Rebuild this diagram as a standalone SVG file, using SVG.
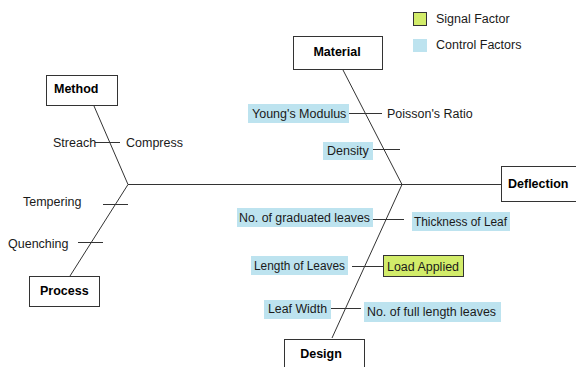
<svg xmlns="http://www.w3.org/2000/svg" width="576" height="367" viewBox="0 0 576 367">
<style>
text{font-family:"Liberation Sans",Arial,sans-serif;font-size:12.5px;fill:#1a1a1a}
.b{font-weight:bold;fill:#000}
.box{fill:#fff;stroke:#333;stroke-width:1}
.ctl{fill:#bde3ef;stroke:none}
.sig{fill:#d2ec6a;stroke:#333;stroke-width:1}
.ln{stroke:#333;stroke-width:1;fill:none}
</style>
<rect width="576" height="367" fill="#fff"/>
<g id="legend">
<rect class="sig" x="413.5" y="12.5" width="13" height="13"/>
<text x="436" y="23">Signal Factor</text>
<rect class="ctl" x="413" y="39" width="14" height="13"/>
<text x="436" y="49">Control Factors</text>
</g>
<g id="connectors">
<line class="ln" x1="128" y1="184.5" x2="501" y2="184.5"/>
<line class="ln" x1="94" y1="106" x2="128" y2="184.5"/>
<line class="ln" x1="128" y1="184.5" x2="70" y2="276"/>
<line class="ln" x1="343" y1="70" x2="402" y2="184.5"/>
<line class="ln" x1="402" y1="184.5" x2="332" y2="338"/>
<line class="ln" x1="95" y1="142.5" x2="120" y2="142.5"/>
<line class="ln" x1="103" y1="204.5" x2="128" y2="204.5"/>
<line class="ln" x1="78" y1="242.5" x2="103" y2="242.5"/>
<line class="ln" x1="349" y1="113.5" x2="382" y2="113.5"/>
<line class="ln" x1="373" y1="149.5" x2="400" y2="149.5"/>
<line class="ln" x1="373" y1="219.5" x2="404" y2="219.5"/>
<line class="ln" x1="352" y1="266.5" x2="383" y2="266.5"/>
<line class="ln" x1="331" y1="308.5" x2="361" y2="308.5"/>
</g>
<g id="method">
<rect class="box" x="46.5" y="75.5" width="71" height="30"/>
<text class="b" x="54" y="93">Method</text>
</g>
<g id="streach"><text x="53" y="147">Streach</text></g>
<g id="compress"><text x="126" y="147">Compress</text></g>
<g id="tempering"><text x="23" y="206">Tempering</text></g>
<g id="quenching"><text x="8" y="248">Quenching</text></g>
<g id="process">
<rect class="box" x="29.5" y="276.5" width="70" height="30"/>
<text class="b" x="40" y="295">Process</text>
</g>
<g id="material">
<rect class="box" x="293.5" y="36.5" width="89" height="33"/>
<text class="b" x="337" y="56" text-anchor="middle">Material</text>
</g>
<g id="youngs">
<rect class="ctl" x="248" y="104" width="101" height="19"/>
<text x="252" y="118">Young's Modulus</text>
</g>
<g id="poisson"><text x="387" y="118">Poisson's Ratio</text></g>
<g id="density">
<rect class="ctl" x="323" y="142" width="50" height="18"/>
<text x="327" y="155">Density</text>
</g>
<g id="deflection">
<rect class="box" x="501.5" y="166.5" width="80" height="35"/>
<text class="b" x="508" y="188">Deflection</text>
</g>
<g id="graduated">
<rect class="ctl" x="237" y="208" width="136" height="19"/>
<text x="239" y="222" textLength="131" lengthAdjust="spacingAndGlyphs">No. of graduated leaves</text>
</g>
<g id="thickness">
<rect class="ctl" x="412" y="212" width="98" height="19"/>
<text x="414" y="226" textLength="93" lengthAdjust="spacingAndGlyphs">Thickness of Leaf</text>
</g>
<g id="length">
<rect class="ctl" x="251" y="256" width="97" height="19"/>
<text x="254" y="270" textLength="91" lengthAdjust="spacingAndGlyphs">Length of Leaves</text>
</g>
<g id="load">
<rect class="sig" x="383.5" y="255.5" width="80" height="21"/>
<text x="387" y="271" textLength="72" lengthAdjust="spacingAndGlyphs">Load Applied</text>
</g>
<g id="leafwidth">
<rect class="ctl" x="264" y="300" width="67" height="19"/>
<text x="268" y="313" textLength="59" lengthAdjust="spacingAndGlyphs">Leaf Width</text>
</g>
<g id="fulllength">
<rect class="ctl" x="364" y="302" width="137" height="20"/>
<text x="367" y="316" textLength="129" lengthAdjust="spacingAndGlyphs">No. of full length leaves</text>
</g>
<g id="design">
<rect class="box" x="284.5" y="339.5" width="80" height="35"/>
<text class="b" x="321" y="358" text-anchor="middle">Design</text>
</g>
</svg>
